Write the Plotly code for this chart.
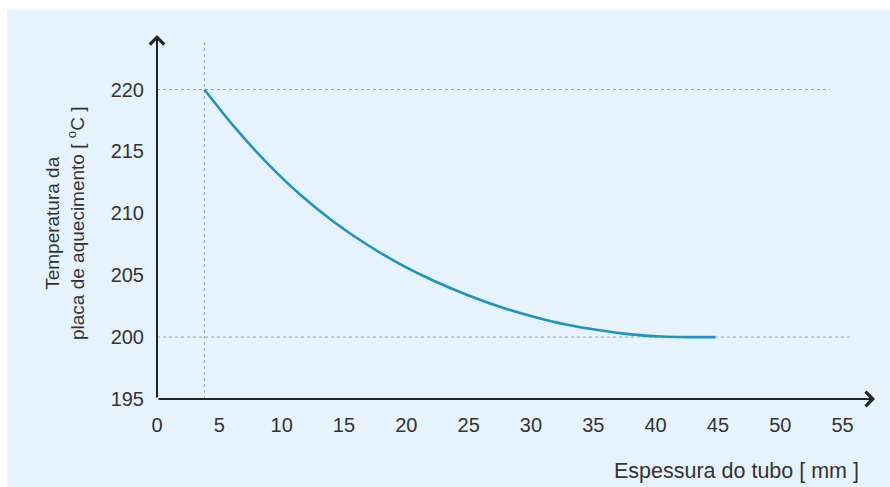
import plotly.graph_objects as go

# Data
thickness_mm = [3.8, 6.1, 8.8, 11.5, 14.2, 16.8, 19.5, 22.2, 24.9, 27.5, 30.2,
                32.9, 35.5, 38.0, 40.5, 42.5, 44.8]
temperature_c = [220.0, 217.1, 214.1, 211.5, 209.3, 207.5, 205.9, 204.55, 203.4,
                 202.45, 201.65, 201.0, 200.55, 200.22, 200.05, 200.0, 200.0]
x_ticks = [0, 5, 10, 15, 20, 25, 30, 35, 40, 45, 50, 55]
y_ticks = [195, 200, 205, 210, 215, 220]
ref_levels = [220, 200]

W, H = 890, 487
ML, MR, MT, MB = 157, 15, 40, 88
PW, PH = W - ML - MR, H - MT - MB
X_RANGE = [0, 57.6]
Y_RANGE = [195, 224.0]

BG = "#e6f3fc"
FONT = "Liberation Sans, Arial, sans-serif"
TXT = "#333333"
AX = "#222222"
GRID = "#9aa6b0"

fig = go.Figure()
fig.add_trace(go.Scatter(
    x=thickness_mm, y=temperature_c, mode="lines",
    line=dict(color="#1f93c2", width=2.6, shape="spline", smoothing=0.8),
    hoverinfo="skip", showlegend=False))

shapes = []
# reference dotted lines
shapes.append(dict(type="line", xref="x", yref="y", x0=0, x1=54.0,
                   y0=ref_levels[0], y1=ref_levels[0],
                   line=dict(color=GRID, width=1, dash="dot"), layer="below"))
shapes.append(dict(type="line", xref="x", yref="y", x0=0, x1=55.8,
                   y0=ref_levels[1], y1=ref_levels[1],
                   line=dict(color=GRID, width=1, dash="dot"), layer="below"))
shapes.append(dict(type="line", xref="x", yref="y", x0=thickness_mm[0], x1=thickness_mm[0],
                   y0=Y_RANGE[0], y1=223.8,
                   line=dict(color=GRID, width=1, dash="dot"), layer="below"))


def px_x(p):
    return (p - ML) / PW


def px_y(p):
    return (H - MB - p) / PH


# white margins (left and top strips)
shapes.append(dict(type="rect", xref="paper", yref="paper", x0=px_x(0), x1=px_x(7),
                   y0=px_y(H), y1=px_y(0), fillcolor="white", line=dict(width=0), layer="below"))
shapes.append(dict(type="rect", xref="paper", yref="paper", x0=px_x(0), x1=px_x(W),
                   y0=px_y(10), y1=px_y(0), fillcolor="white", line=dict(width=0), layer="below"))

annotations = [
    # x axis with arrow
    dict(x=X_RANGE[1], y=Y_RANGE[0], ax=0, ay=Y_RANGE[0], xref="x", yref="y",
         axref="x", ayref="y", text="", showarrow=True, arrowhead=4, arrowsize=1.4,
         arrowwidth=2, arrowcolor=AX, standoff=0),
    # y axis with arrow
    dict(x=0, y=Y_RANGE[1] + 0.4, ax=0, ay=Y_RANGE[0], xref="x", yref="y",
         axref="x", ayref="y", text="", showarrow=True, arrowhead=4, arrowsize=1.4,
         arrowwidth=2, arrowcolor=AX, standoff=0),
    dict(x=px_x(861), y=px_y(471), xref="paper", yref="paper", xanchor="right",
         yanchor="middle", showarrow=False, text="Espessura do tubo [ mm ]",
         font=dict(family=FONT, size=21.5, color=TXT)),
    dict(x=px_x(65), y=px_y(224), xref="paper", yref="paper", xanchor="center",
         yanchor="middle", showarrow=False, textangle=-90,
         text="Temperatura da<br>placa de aquecimento [ <sup>o</sup>C ]",
         font=dict(family=FONT, size=19, color=TXT)),
]

fig.update_layout(
    width=W, height=H,
    margin=dict(l=ML, r=MR, t=MT, b=MB),
    paper_bgcolor=BG, plot_bgcolor=BG,
    shapes=shapes, annotations=annotations,
    xaxis=dict(range=X_RANGE, tickvals=x_ticks, ticktext=[str(v) for v in x_ticks],
               showgrid=False, zeroline=False, showline=False, ticks="",
               ticklabelstandoff=12,
               tickfont=dict(family=FONT, size=20, color=TXT)),
    yaxis=dict(range=Y_RANGE, tickvals=y_ticks, ticktext=[str(v) for v in y_ticks],
               showgrid=False, zeroline=False, showline=False, ticks="",
               ticklabelstandoff=12,
               tickfont=dict(family=FONT, size=20, color=TXT)),
)

fig.write_html("out.html", config={"displayModeBar": False},
               post_script="document.body.style.margin='0';document.body.style.padding='0';")
